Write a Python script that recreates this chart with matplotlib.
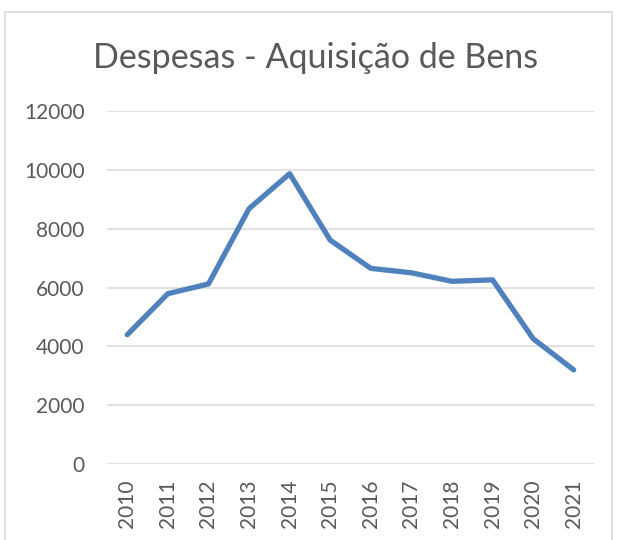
import matplotlib
matplotlib.use('Agg')
import matplotlib.pyplot as plt
from matplotlib.patches import Rectangle

# data
anos = ['2010', '2011', '2012', '2013', '2014', '2015',
        '2016', '2017', '2018', '2019', '2020', '2021']
despesas = [4395, 5790, 6120, 8680, 9870, 7610,
            6650, 6500, 6210, 6260, 4260, 3200]
yticks = [0, 2000, 4000, 6000, 8000, 10000, 12000]

plt.rcParams['font.family'] = ['Lato', 'DejaVu Sans']
txt = '#595959'

fig = plt.figure(figsize=(6.2, 5.4), dpi=100)
ax = fig.add_axes([107/620, 1 - 464/540, (594 - 107)/620, (464 - 111)/540])

x = list(range(len(anos)))
ax.plot(x, despesas, color='#4F81BD', linewidth=3.8, solid_joinstyle='round',
        solid_capstyle='round', zorder=3)

ax.set_xlim(-0.5, len(anos) - 0.5)
ax.set_ylim(0, 12000)
ax.set_yticks(yticks)
ax.set_yticklabels([str(v) for v in yticks], fontsize=15, color=txt)
ax.set_xticks(x)
ax.set_xticklabels(anos, rotation=90, fontsize=15, color=txt)
ax.tick_params(axis='y', length=0, pad=16)
ax.tick_params(axis='x', length=0, pad=11)
ax.yaxis.grid(True, color='#D9D9D9', linewidth=1.1)
for s in ax.spines.values():
    s.set_visible(False)

fig.text(0.5 * (93 + 538) / 620, 1 - 58/540, 'Despesas - Aquisição de Bens',
         fontsize=24.5, color=txt, ha='center', va='center')

# chart border
fig.patches.append(Rectangle((5/620, -0.05), (612 - 5)/620, 1 - 12/540 + 0.05,
                             transform=fig.transFigure, fill=False,
                             edgecolor='#D9D9D9', linewidth=1.2))

fig.savefig('out.png', dpi=100)
